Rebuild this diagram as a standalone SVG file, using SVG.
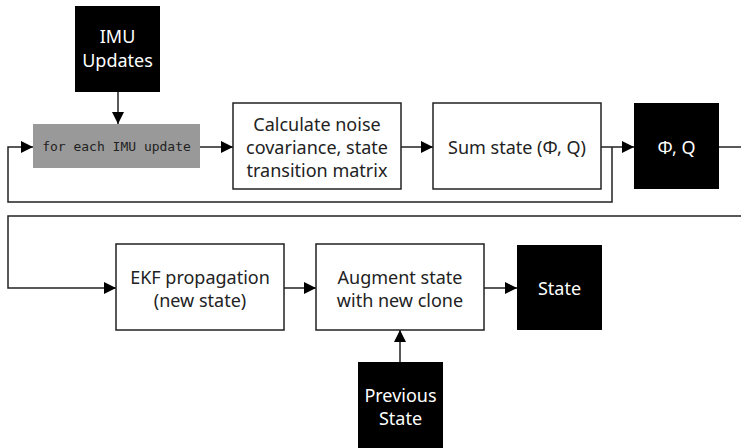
<svg xmlns="http://www.w3.org/2000/svg" width="741" height="448" viewBox="0 0 741 448">
  <defs>
    <marker id="arrow" viewBox="0 0 12 12" refX="12" refY="6" markerWidth="12" markerHeight="12" markerUnits="userSpaceOnUse" orient="auto">
      <path d="M0,0 L12,6 L0,12 Z" fill="#000"/>
    </marker>
    <style>
      .box { fill: #fff; stroke: #222; stroke-width: 1.5; }
      .dark { fill: #000; }
      .gray { fill: #999; }
      .lbl { font-family: "Noto Sans", Lato, sans-serif; font-size: 18px; fill: #222; text-anchor: middle; }
      .lblw { font-family: "Noto Sans", Lato, sans-serif; font-size: 18px; fill: #fff; text-anchor: middle; }
      .mono { font-family: "DejaVu Sans Mono", monospace; font-size: 13px; fill: #222; text-anchor: middle; }
      .wire { fill: none; stroke: #222; stroke-width: 1.5; }
      .arr { fill: none; stroke: #222; stroke-width: 1.5; marker-end: url(#arrow); }
    </style>
  </defs>
  <rect width="741" height="448" fill="#fff"/>

  <!-- connectors -->
  <g id="connectors">
    <line class="arr" x1="118" y1="92" x2="118" y2="124"/>
    <line class="arr" x1="200" y1="147" x2="233" y2="147"/>
    <line class="arr" x1="401" y1="147" x2="433" y2="147"/>
    <line class="arr" x1="601" y1="147" x2="634" y2="147"/>
    <polyline class="arr" points="612,147 612,202 8,202 8,147 33,147"/>
    <line class="wire" x1="719" y1="147" x2="741" y2="147"/>
    <polyline class="arr" points="741,216 8,216 8,288 116,288"/>
    <line class="arr" x1="284" y1="288" x2="316" y2="288"/>
    <line class="arr" x1="484" y1="288" x2="517" y2="288"/>
    <line class="arr" x1="400" y1="362" x2="400" y2="330"/>
  </g>

  <g id="imu-updates">
    <rect class="dark" x="75" y="6" width="85" height="86"/>
    <text class="lblw" x="117.5" y="43">IMU</text>
    <text class="lblw" x="117.5" y="67">Updates</text>
  </g>

  <g id="loop">
    <rect class="gray" x="33" y="124" width="167" height="44"/>
    <text class="mono" x="116.5" y="151">for each IMU update</text>
  </g>

  <g id="calc">
    <rect class="box" x="233" y="103" width="168" height="86"/>
    <text class="lbl" x="317" y="131">Calculate noise</text>
    <text class="lbl" x="317" y="154">covariance, state</text>
    <text class="lbl" x="317" y="177">transition matrix</text>
  </g>

  <g id="sum">
    <rect class="box" x="433" y="103" width="168" height="86"/>
    <text class="lbl" x="517" y="154">Sum state (Φ, Q)</text>
  </g>

  <g id="phi-q">
    <rect class="dark" x="634" y="103" width="85" height="86"/>
    <text class="lblw" x="676.5" y="154">Φ, Q</text>
  </g>

  <g id="ekf">
    <rect class="box" x="116" y="244" width="168" height="86"/>
    <text class="lbl" x="200" y="284">EKF propagation</text>
    <text class="lbl" x="200" y="307">(new state)</text>
  </g>

  <g id="augment">
    <rect class="box" x="316" y="244" width="168" height="86"/>
    <text class="lbl" x="400" y="284">Augment state</text>
    <text class="lbl" x="400" y="307">with new clone</text>
  </g>

  <g id="state">
    <rect class="dark" x="517" y="245" width="85" height="85"/>
    <text class="lblw" x="559.5" y="295">State</text>
  </g>

  <g id="previous-state">
    <rect class="dark" x="358" y="362" width="85" height="90"/>
    <text class="lblw" x="400.5" y="402">Previous</text>
    <text class="lblw" x="400.5" y="425">State</text>
  </g>
</svg>
